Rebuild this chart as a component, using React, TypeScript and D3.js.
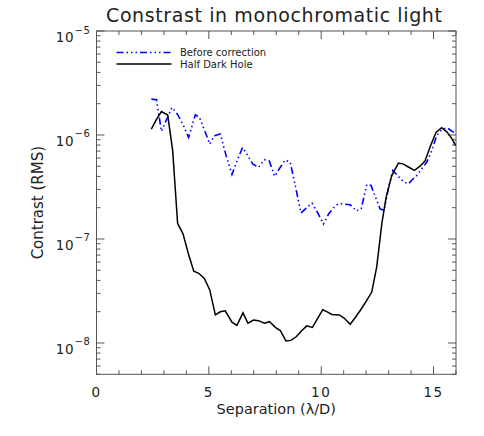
import React from "react";
import * as d3 from "d3";

const beforeX = [2.44, 2.67, 2.89, 3.12, 3.36, 3.6, 3.85, 4.1, 4.4, 4.58, 4.82, 5.04, 5.24, 5.51, 5.77, 6.03, 6.27, 6.5, 6.74, 6.96, 7.21, 7.47, 7.69, 7.93, 8.15, 8.4, 8.62, 8.86, 9.1, 9.35, 9.59, 9.85, 10.1, 10.33, 10.55, 10.77, 11.03, 11.29, 11.56, 11.78, 12.03, 12.22, 12.42, 12.62, 12.8, 13.0, 13.19, 13.44, 13.66, 13.88, 14.05, 14.22, 14.46, 14.7, 14.92, 15.14, 15.36, 15.59, 15.8, 16.0];
const beforeLog = [-5.655, -5.66, -5.965, -5.85, -5.735, -5.8, -5.9, -6.023, -5.805, -5.83, -5.96, -6.087, -6.007, -5.99, -6.2, -6.38, -6.24, -6.12, -6.2, -6.28, -6.31, -6.237, -6.25, -6.397, -6.32, -6.24, -6.26, -6.5, -6.75, -6.7, -6.656, -6.75, -6.855, -6.76, -6.7, -6.66, -6.665, -6.67, -6.73, -6.71, -6.476, -6.485, -6.6, -6.71, -6.726, -6.5, -6.34, -6.4, -6.45, -6.47, -6.43, -6.4, -6.33, -6.26, -6.15, -6.007, -5.95, -5.93, -5.96, -5.99];

const holeX = [2.44, 2.67, 2.89, 3.17, 3.39, 3.61, 3.85, 4.1, 4.33, 4.55, 4.8, 5.04, 5.29, 5.51, 5.73, 6.03, 6.25, 6.52, 6.74, 6.99, 7.21, 7.47, 7.7, 7.96, 8.18, 8.43, 8.65, 8.89, 9.14, 9.36, 9.61, 9.85, 10.07, 10.27, 10.47, 10.8, 11.02, 11.29, 11.5, 11.73, 12.0, 12.25, 12.47, 12.7, 12.89, 13.14, 13.44, 13.66, 13.9, 14.15, 14.4, 14.62, 14.87, 15.11, 15.36, 15.59, 15.8, 15.98];
const holeLog = [-5.943, -5.85, -5.774, -5.808, -6.15, -6.85, -6.95, -7.15, -7.31, -7.33, -7.38, -7.49, -7.73, -7.7, -7.69, -7.8, -7.83, -7.71, -7.81, -7.78, -7.785, -7.81, -7.795, -7.85, -7.88, -7.98, -7.975, -7.94, -7.88, -7.835, -7.85, -7.76, -7.68, -7.7, -7.726, -7.73, -7.76, -7.82, -7.76, -7.69, -7.6, -7.51, -7.27, -6.85, -6.6, -6.39, -6.27, -6.28, -6.31, -6.34, -6.3, -6.25, -6.1, -5.975, -5.93, -5.97, -6.03, -6.1];

const xTickLabels = [0, 5, 10, 15];
const yDecades = [-5, -6, -7, -8];
const titleText = "Constrast in monochromatic light";
const xLabel = "Separation (λ/D)";
const yLabel = "Contrast (RMS)";
const legendLabels = ["Before correction", "Half Dark Hole"];

const W = 484, H = 436;
const L = 96.5, R = 456, T = 31, B = 374.3;
const FONT = "DejaVu Sans";
const AX = "#555";
const TXT = "#222";

export default function App() {
  const x = d3.scaleLinear().domain([0, 16]).range([L, R]);
  const y = d3.scaleLog().domain([5e-9, 1e-5]).range([B, T]);

  const line = d3.line<[number, number]>().x(d => x(d[0])).y(d => y(Math.pow(10, d[1])));
  const before: [number, number][] = beforeX.map((v, i) => [v, beforeLog[i]]);
  const hole: [number, number][] = holeX.map((v, i) => [v, holeLog[i]]);

  const xTicks = d3.range(0, 17);
  const minorY: number[] = [];
  for (let e = -9; e <= -6; e++) {
    for (let k = 2; k <= 9; k++) {
      const v = k * Math.pow(10, e);
      if (v >= 5e-9 && v < 1e-5) minorY.push(v);
    }
  }

  const dash = "7,3,1.5,3,1.5,3,1.5,3";

  return (
    <svg width={W} height={H} style={{ position: "absolute", left: 0, top: 0, background: "#fff" }} fontFamily={FONT}>
      <rect x={0} y={0} width={W} height={H} fill="#fff" />
      {/* title */}
      <text x={(L + R) / 2 - 2} y={21.7} fontSize={19} textAnchor="middle" fill={TXT} letterSpacing={0.6}>{titleText}</text>

      {/* frame */}
      <rect x={L} y={T} width={R - L} height={B - T} fill="none" stroke={AX} strokeWidth={1} />

      {/* x ticks */}
      {xTicks.map(t => {
        const len = t % 5 === 0 ? 8 : 4;
        return (
          <g key={"xt" + t}>
            <line x1={x(t)} x2={x(t)} y1={B} y2={B - len} stroke={AX} />
            <line x1={x(t)} x2={x(t)} y1={T} y2={T + len} stroke={AX} />
          </g>
        );
      })}
      {xTickLabels.map(t => (
        <text key={"xl" + t} x={x(t)} y={397} fontSize={13.5} textAnchor="middle" fill={TXT} letterSpacing={1.5}>{t}</text>
      ))}
      <text x={(L + R) / 2} y={414} fontSize={14.5} textAnchor="middle" fill={TXT}>{xLabel}</text>

      {/* y ticks */}
      {yDecades.map(e => {
        const v = Math.pow(10, e);
        return (
          <g key={"yd" + e}>
            <line x1={L} x2={L + 8} y1={y(v)} y2={y(v)} stroke={AX} />
            <line x1={R} x2={R - 8} y1={y(v)} y2={y(v)} stroke={AX} />
            <text x={74} y={y(v) + 11} fontSize={13.5} textAnchor="end" fill={TXT} letterSpacing={0.5}>10</text>
            <text x={74.5} y={y(v) + 2.5} fontSize={10} textAnchor="start" fill={TXT} letterSpacing={0.5}>{"−" + Math.abs(e)}</text>
          </g>
        );
      })}
      {minorY.map((v, i) => (
        <g key={"ym" + i}>
          <line x1={L} x2={L + 4} y1={y(v)} y2={y(v)} stroke={AX} />
          <line x1={R} x2={R - 4} y1={y(v)} y2={y(v)} stroke={AX} />
        </g>
      ))}
      <text transform={`translate(43,${(T + B) / 2}) rotate(-90)`} fontSize={15} textAnchor="middle" fill={TXT}>{yLabel}</text>

      {/* data */}
      <path d={line(before) || ""} fill="none" stroke="#0000ff" strokeWidth={1.6} strokeDasharray={dash} />
      <path d={line(hole) || ""} fill="none" stroke="#000" strokeWidth={1.5} />

      {/* legend */}
      <line x1={116.5} x2={171.5} y1={52.5} y2={52.5} stroke="#0000ff" strokeWidth={1.6} strokeDasharray={dash} />
      <text x={180} y={56.3} fontSize={10} fill={TXT}>{legendLabels[0]}</text>
      <line x1={116.5} x2={171.5} y1={64} y2={64} stroke="#000" strokeWidth={1.5} />
      <text x={180} y={67.6} fontSize={10} fill={TXT}>{legendLabels[1]}</text>
    </svg>
  );
}
